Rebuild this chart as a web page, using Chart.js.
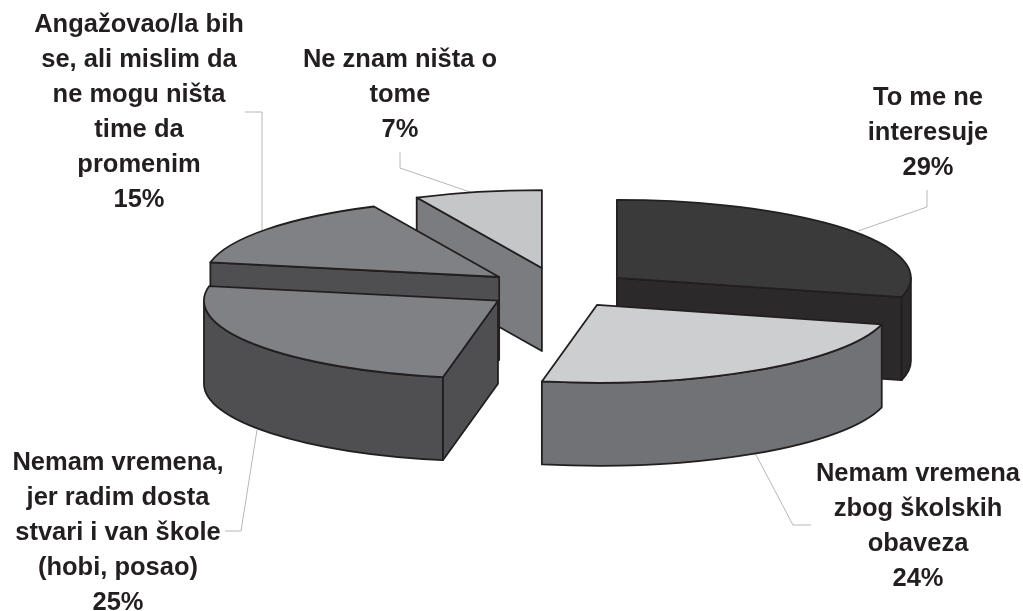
<!DOCTYPE html>
<html lang="sr">
<head>
<meta charset="utf-8">
<title>Pie</title>
<script src="https://cdn.jsdelivr.net/npm/chart.js@4/dist/chart.umd.js"></script>
<style>
  html, body { margin: 0; padding: 0; background: #fff; }
  #wrap { width: 1023px; height: 611px; }
</style>
</head>
<body>
<div id="wrap"><canvas id="pie" width="1023" height="611"></canvas></div>
<script>
// Podaci sa slike
const categories = [
  ['To me ne', 'interesuje'],
  ['Nemam vremena', 'zbog školskih', 'obaveza'],
  ['Nemam vremena,', 'jer radim dosta', 'stvari i van škole', '(hobi, posao)'],
  ['Angažovao/la bih', 'se, ali mislim da', 'ne mogu ništa', 'time da', 'promenim'],
  ['Ne znam ništa o', 'tome']
];
const values = [29, 24, 25, 15, 7];

const topColors = ['#3a3a3b', '#cdced0', '#808184', '#808184', '#c5c6c8'];
const wallColors = ['#2b292a', '#717275', '#4f4f51', '#4f4f51', '#7b7c80'];

const TILT = 0.265;   // spljostenost elipse
const DEPTH = 83;     // visina "torte"
const INK = '#231f20';

// pozicije natpisa i linije do njih
const labelCenters = [[928, 98], [918, 474], [118, 463], [139, 25], [400, 60]];
const leaders = [
  [[927, 190], [927, 207], [858, 231]],
  [[755, 453], [793, 525], [811, 525]],
  [[257, 430], [241, 531], [225, 531]],
  [[262, 230], [262, 112], [245, 112]],
  [[473, 193], [400, 168], [400, 152]]
];

// crta se od nazad ka napred
const drawOrder = [4, 3, 2, 0, 1];

const pie3d = {
  id: 'pie3d',
  beforeDatasetsDraw(chart) {
    const ctx = chart.ctx;
    const arcs = chart.getDatasetMeta(0).data;

    // linije ispod svega
    ctx.save();
    ctx.strokeStyle = '#b5b7ba';
    ctx.lineWidth = 1;
    leaders.forEach(pts => {
      ctx.beginPath();
      pts.forEach((p, i) => i ? ctx.lineTo(p[0], p[1]) : ctx.moveTo(p[0], p[1]));
      ctx.stroke();
    });
    ctx.restore();

    const cy = arcs[0].y;
    drawOrder.forEach(i => drawSlice(ctx, arcs[i], cy, wallColors[i]));
    return false;
  },
  afterDraw(chart) {
    const ctx = chart.ctx;
    ctx.save();
    ctx.font = 'bold 25.5px "Liberation Sans", Arial, sans-serif';
    ctx.fillStyle = INK;
    ctx.textAlign = 'center';
    ctx.textBaseline = 'middle';
    categories.forEach((lines, i) => {
      const all = lines.concat(values[i] + '%');
      all.forEach((t, n) => ctx.fillText(t, labelCenters[i][0], labelCenters[i][1] + n * 35));
    });
    ctx.restore();
  }
};

// uglovi i poluprecnik dolaze iz ArcElement-a, ovde se samo spljoste i dobiju zidove
function drawSlice(ctx, arc, cy, wall) {
  const off = (arc.options.offset || 0) / 4;
  const mid = (arc.startAngle + arc.endAngle) / 2;
  const r = arc.outerRadius;
  const ax = arc.x + Math.cos(mid) * off;
  const ay = cy + Math.sin(mid) * off * TILT;
  const px = a => ax + Math.cos(a) * r;
  const py = a => ay + Math.sin(a) * r * TILT;

  ctx.save();
  ctx.lineJoin = 'round';
  ctx.strokeStyle = INK;
  ctx.lineWidth = 1.8;
  ctx.fillStyle = wall;

  // ravne strane koje se vide
  [arc.startAngle, arc.endAngle].forEach((a, n) => {
    const visible = n === 0 ? Math.cos(a) < -1e-6 : Math.cos(a) > 1e-6;
    if (!visible) return;
    ctx.beginPath();
    ctx.moveTo(ax, ay);
    ctx.lineTo(px(a), py(a));
    ctx.lineTo(px(a), py(a) + DEPTH);
    ctx.lineTo(ax, ay + DEPTH);
    ctx.closePath();
    ctx.fill();
    ctx.stroke();
  });

  // spoljni zid, samo prednji deo elipse
  const from = Math.max(arc.startAngle, 0);
  const to = Math.min(arc.endAngle, Math.PI);
  if (to > from) {
    ctx.beginPath();
    ctx.ellipse(ax, ay, r, r * TILT, 0, from, to);
    ctx.lineTo(px(to), py(to) + DEPTH);
    ctx.ellipse(ax, ay + DEPTH, r, r * TILT, 0, to, from, true);
    ctx.closePath();
    ctx.fill();
    ctx.stroke();
  }

  // gornja strana
  ctx.fillStyle = arc.options.backgroundColor;
  ctx.beginPath();
  ctx.moveTo(ax, ay);
  ctx.ellipse(ax, ay, r, r * TILT, 0, arc.startAngle, arc.endAngle);
  ctx.closePath();
  ctx.fill();
  ctx.stroke();
  ctx.restore();
}

new Chart(document.getElementById('pie'), {
  type: 'pie',
  data: {
    labels: categories.map(l => l.join(' ')),
    datasets: [{
      data: values,
      backgroundColor: topColors,
      borderWidth: 0,
      offset: [288, 276, 300, 308, 332]
    }]
  },
  options: {
    responsive: false,
    animation: false,
    radius: 294,
    layout: { padding: { left: 97, bottom: 32 } },
    plugins: { legend: { display: false }, tooltip: { enabled: false } }
  },
  plugins: [pie3d]
});
</script>
</body>
</html>
